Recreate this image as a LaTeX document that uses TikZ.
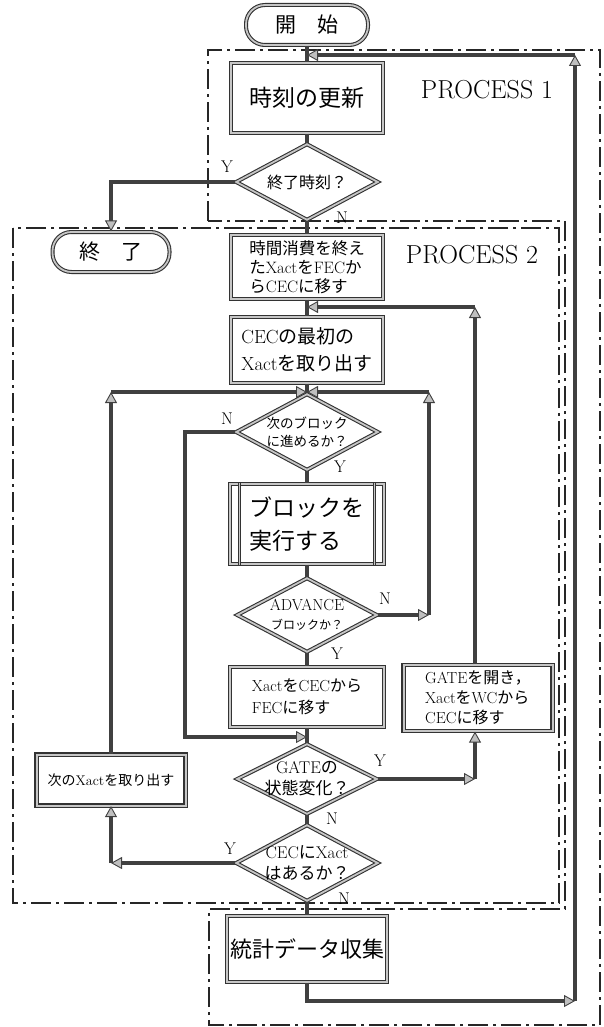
\documentclass[tikz,border=0pt]{standalone}
\usepackage{fontspec}
\usepackage{xcolor}
\usepackage{tikz}
\usetikzlibrary{positioning, shapes.geometric, arrows.meta}

\newfontfamily\jp{Noto Sans CJK JP}
\newcommand{\en}[1]{{\rmfamily #1}}
\newcommand{\fs}[2]{\fontsize{#1}{#2}\selectfont}

\tikzset{
  term/.style={draw=black!80, double=gray!45, double distance=1.8pt, line width=1.1pt,
    rounded corners=19pt, minimum width=122pt, minimum height=40pt, font=\jp\fs{21}{25}},
  procbox/.style={draw=black!80, double=gray!45, double distance=2pt, line width=1.2pt,
    minimum width=152pt, inner sep=3pt, font=\jp},
  decision/.style={diamond, draw=black!80, double=gray!45, double distance=1.8pt, line width=1.1pt,
    aspect=1.87, inner sep=-5pt, minimum width=142pt, minimum height=76pt, align=center, font=\jp},
  sidebar/.style={draw=black!80, double=gray!45, double distance=1.4pt, line width=1pt},
  flow/.style={draw=black!75, line width=3.2pt},
  procline/.style={draw=black!85, line width=1.5pt, dash pattern=on 20pt off 5pt on 3pt off 5pt},
  yn/.style={font=\fs{17}{20}},
  proclabel/.style={font=\fs{26}{30}}
}

\begin{document}
\begin{tikzpicture}[x=1pt, y=-1pt, on grid,
    >={Triangle[length=11pt, width=12pt, fill=gray!50, line width=0.9pt]}]
  \useasboundingbox (0,0) rectangle (604,1027);

  % process regions
  \draw[procline] (208,221) -- (208,50) -- (600,50) -- (600,1025) -- (209,1025)
    -- (209,909) -- (565,909) -- (565,221) -- cycle;
  \draw[procline] (13,228) rectangle (559,903);
  \node[proclabel] (p1) at (487,90) {PROCESS 1};
  \node[proclabel] (p2) at (472,255) {PROCESS 2};

  % main column
  \node[term] (start) at (307,25) {開\hspace{1em}始};
  \node[procbox, minimum height=70pt, font=\jp\fs{23}{27}] (upd) [below=73pt of start] {時刻の更新};
  \node[decision, font=\jp\fs{16}{18}] (endq) [below=84pt of upd] {終了時刻？};
  \node[procbox, minimum height=64pt, align=left, font=\jp\fs{16.5}{19}] (fec) [below=85pt of endq]
    {時間消費を終え\\た\en{Xact}を\en{FEC}か\\ら\en{CEC}に移す};
  \node[procbox, minimum height=66pt, align=left, font=\jp\fs{19}{27}] (cec1) [below=83pt of fec]
    {\en{CEC}の最初の\\\en{Xact}を取り出す};
  \node[decision, font=\jp\fs{13.5}{18}] (nextq) [below=82pt of cec1] {次のブロック\\に進めるか？};
  \node[procbox, minimum width=154pt, minimum height=80pt, align=left, font=\jp\fs{23}{33}] (exec)
    [below=92pt of nextq] {ブロックを\\実行する};
  \node[decision, minimum height=74pt, minimum width=140pt, font=\fs{16}{19}] (adv) [below=91pt of exec]
    {\en{ADVANCE}\\{\jp\fs{12}{14}ブロックか？}};
  \node[procbox, minimum width=154pt, minimum height=60pt, align=left, font=\jp\fs{16}{22}] (tofec)
    [below=82pt of adv] {\en{Xact}を\en{CEC}から\\\en{FEC}に移す};
  \node[decision, minimum height=70pt, minimum width=140pt, font=\jp\fs{17}{21}] (gate)
    [below=82pt of tofec] {\en{GATE}の\\状態変化？};
  \node[decision, font=\jp\fs{17}{21}] (cecq) [below=84pt of gate] {\en{CEC}に\en{Xact}\\はあるか？};
  \node[procbox, minimum width=154pt, minimum height=66pt, font=\jp\fs{22}{26}] (stat)
    [below=86pt of cecq] {統計データ収集};

  % side boxes
  \node[term, minimum width=117pt] (stop) at (111,252) {終\hspace{1em}了};
  \node[procbox, minimum width=149pt, minimum height=66pt, align=left, font=\jp\fs{16}{20}] (gopen)
    at (478,698) {\en{GATE}を開き，\\\en{Xact}を\en{WC}から\\\en{CEC}に移す};
  \node[procbox, minimum width=149pt, minimum height=51pt, font=\jp\fs{14}{16}] (nextx)
    at (111,780) {次の\en{Xact}を取り出す};
  \draw[sidebar] ([xshift=10pt]exec.north west) -- ([xshift=10pt]exec.south west);
  \draw[sidebar] ([xshift=-10pt]exec.north east) -- ([xshift=-10pt]exec.south east);

  % corners of the loops
  \coordinate (rb) at (575,1001);
  \coordinate (rt) at (575,55);
  \coordinate (lb) at (185,737);
  \coordinate (advR) at (429,615);
  \coordinate (advT) at (429,392);
  \coordinate (nxT) at (111,392);
  \coordinate (gR) at (475,779);
  \coordinate (gT) at (475,307);
  \coordinate (cL) at (111,863);

  \path[flow]
    (start) edge (upd)
    (upd) edge (endq)
    (endq) edge (fec)
    (fec) edge (cec1)
    (cec1) edge (nextq)
    (nextq) edge (exec)
    (exec) edge (adv)
    (adv) edge (tofec)
    (tofec) edge (gate)
    (gate) edge (cecq)
    (cecq) edge (stat);

  \draw[flow,->] (endq.west) -| (stop.north);
  \draw[flow,->] (nextq.west) -| (lb) -- (lb -| tofec);
  \draw[flow,->] (adv.east) -- (advR);
  \draw[flow,->] (advR) -- (advT);
  \draw[flow,->] (advT) -- (advT -| cec1);
  \draw[flow,->] (nextx) -- (nxT);
  \draw[flow,->] (nxT) -- (nxT -| cec1);
  \draw[flow,->] (gate.east) -- (gR);
  \draw[flow,->] (gR) -- (gR |- gopen.south);
  \draw[flow,->] (gR |- gopen.north) -- (gT);
  \draw[flow,->] (gT) -- (gT -| cec1);
  \draw[flow,->] (cecq.west) -- (cL);
  \draw[flow,->] (cL) -- (nextx);
  \draw[flow,->] (stat) |- (rb);
  \draw[flow,->] (rb) -- (rt);
  \draw[flow,->] (rt) -- (rt -| start);

  % branch labels
  \node[yn] (yEnd) at (227,167) {Y};
  \node[yn] (nEnd) at (342,218) {N};
  \node[yn] (nNext) at (227,419) {N};
  \node[yn] (yNext) at (340,467) {Y};
  \node[yn] (nAdv) at (385,599) {N};
  \node[yn] (yAdv) at (337,654) {Y};
  \node[yn] (yGate) at (380,761) {Y};
  \node[yn] (nGate) at (332,819) {N};
  \node[yn] (yCec) at (230,849) {Y};
  \node[yn] (nCec) at (344,899) {N};
\end{tikzpicture}
\end{document}
